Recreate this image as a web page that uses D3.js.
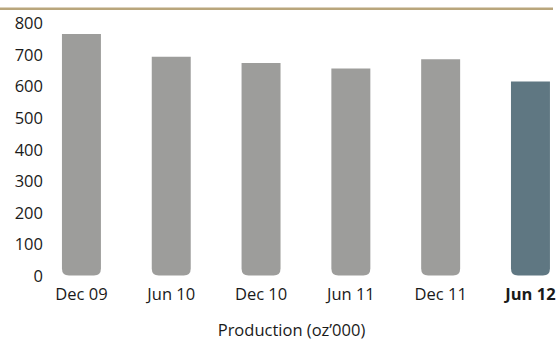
<!DOCTYPE html>
<html>
<head>
<meta charset="utf-8">
<script src="https://cdn.jsdelivr.net/npm/d3@7"></script>
<style>
  html, body { margin: 0; padding: 0; background: #fff; }
  svg { display: block; }
  text { font-family: "Open Sans", "Noto Sans", sans-serif; fill: #1a1a1a; }
</style>
</head>
<body>
<svg id="chart" width="559" height="342"></svg>
<script>
// Half-year production figures
const periods = ["Dec 09", "Jun 10", "Dec 10", "Jun 11", "Dec 11", "Jun 12"];
const production = [765, 693, 673, 656, 685, 615];
const yTicks = [0, 100, 200, 300, 400, 500, 600, 700, 800];
const highlightPeriod = "Jun 12";
const axisTitle = "Production (oz\u2019000)";

const svg = d3.select("#chart");

const x = d3.scaleBand()
  .domain(periods)
  .range([39.5, 572.4])
  .paddingInner(0.566)
  .paddingOuter(0.25);

const y = d3.scaleLinear()
  .domain([0, 800])
  .range([275.5, 23]);

// Gold rule across the top
svg.append("rect")
  .attr("x", 0).attr("y", 7.5)
  .attr("width", 553).attr("height", 2.5)
  .attr("fill", "#b9a67c");

// Bars: square tops, rounded bottom corners
const r = 7;
function barPath(d, i) {
  const x0 = x(periods[i]);
  const w = x.bandwidth();
  const yt = y(d);
  const yb = y(0);
  return `M${x0},${yt}H${x0 + w}V${yb - r}Q${x0 + w},${yb} ${x0 + w - r},${yb}` +
         `H${x0 + r}Q${x0},${yb} ${x0},${yb - r}Z`;
}

svg.append("g").selectAll("path")
  .data(production)
  .join("path")
  .attr("d", barPath)
  .attr("fill", (d, i) => periods[i] === highlightPeriod ? "#5f7782" : "#9d9d9b");

// Y axis labels
const yAxis = d3.axisLeft(y).tickValues(yTicks).tickSize(0).tickPadding(0);
svg.append("g")
  .attr("transform", "translate(43,0)")
  .call(yAxis)
  .call(g => g.select(".domain").remove())
  .call(g => g.selectAll("text")
    .attr("font-family", "Open Sans, Noto Sans, sans-serif")
    .attr("font-size", 16.5)
    .attr("fill", "#1a1a1a")
    .attr("dy", "0.35em"));

// X axis labels
const xAxis = d3.axisBottom(x).tickSize(0).tickPadding(0);
svg.append("g")
  .attr("transform", "translate(0,287)")
  .call(xAxis)
  .call(g => g.select(".domain").remove())
  .call(g => g.selectAll("text")
    .attr("font-family", "Open Sans, Noto Sans, sans-serif")
    .attr("font-size", 16.5)
    .attr("fill", "#1a1a1a")
    .attr("dy", "0.76em")
    .attr("font-weight", d => d === highlightPeriod ? "bold" : "normal"));

// Axis title
svg.append("text")
  .attr("x", 291.5).attr("y", 336)
  .attr("text-anchor", "middle")
  .attr("font-size", 16.5)
  .text(axisTitle);
</script>
</body>
</html>
